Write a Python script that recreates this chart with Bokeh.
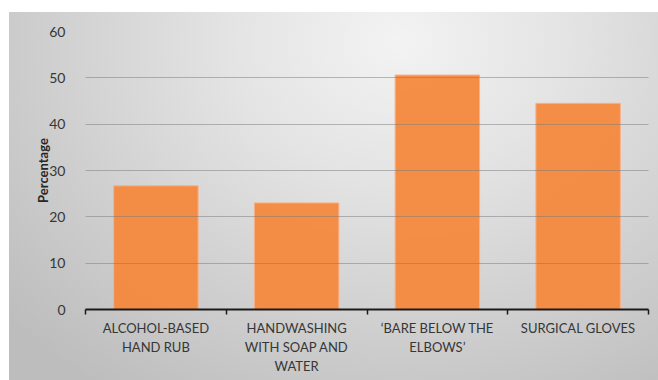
import numpy as np
from bokeh.plotting import figure
from bokeh.models import FixedTicker, Range1d, InlineStyleSheet
from bokeh.embed import file_html
from bokeh.resources import INLINE

categories = ["ALCOHOL-BASED\nHAND RUB", "HANDWASHING\nWITH SOAP AND\nWATER",
              "\u2018BARE BELOW THE\nELBOWS\u2019", "SURGICAL GLOVES"]
values = [26.7, 23.0, 50.6, 44.5]
y_ticks = [0, 10, 20, 30, 40, 50, 60]

n = len(categories)
centers = [i + 0.5 for i in range(n)]
bounds = list(range(n + 1))

css = InlineStyleSheet(css=""":host {
  background:
    radial-gradient(ellipse 80% 115% at 60% 8%, #f3f3f3 0%, #e4e4e4 32%, #cfcfcf 68%, #bdbdbd 100%)
    9px 12px / 649px 368px no-repeat,
    #ffffff;
}""")

p = figure(width=658, height=380, output_backend="svg", toolbar_location=None,
           x_range=Range1d(0, n), y_range=Range1d(0, 60),
           min_border_left=85, min_border_right=10, min_border_top=31, min_border_bottom=71,
           border_fill_color=None, background_fill_color=None, outline_line_color=None,
           stylesheets=[css])

p.vbar(x=centers, top=values, width=0.6, bottom=0,
       fill_color="#F4893D", fill_alpha=0.95, line_color="#F9B088", line_width=1)

# grid above bars
p.xgrid.visible = False
p.ygrid.ticker = FixedTicker(ticks=y_ticks)
p.ygrid.grid_line_color = "#7a7a7a"
p.ygrid.grid_line_alpha = 0.5
p.ygrid.grid_line_width = 1
p.ygrid.level = "annotation"

# x axis
xa = p.xaxis[0]
xa.ticker = FixedTicker(ticks=centers, minor_ticks=bounds)
xa.major_label_overrides = {c: lab for c, lab in zip(centers, categories)}
xa.major_tick_out = 0
xa.major_tick_in = 0
xa.minor_tick_out = 5
xa.minor_tick_in = 0
xa.minor_tick_line_color = "#1a1a1a"
xa.minor_tick_line_width = 1.5
xa.axis_line_color = "#1a1a1a"
xa.axis_line_width = 1.8
xa.major_label_text_font = "Lato"
xa.major_label_text_font_size = "13px"
xa.major_label_text_color = "#363636"
xa.major_label_text_line_height = 1.2
xa.major_label_standoff = 5

# y axis
ya = p.yaxis[0]
ya.ticker = FixedTicker(ticks=y_ticks)
ya.axis_line_color = None
ya.major_tick_line_color = None
ya.minor_tick_line_color = None
ya.major_label_text_font = "Lato"
ya.major_label_text_font_size = "14px"
ya.major_label_text_color = "#363636"
ya.major_label_standoff = 14
ya.axis_label = "Percentage"
ya.axis_label_text_font = "Lato"
ya.axis_label_text_font_style = "bold"
ya.axis_label_text_font_size = "13px"
ya.axis_label_text_color = "#262626"
ya.axis_label_standoff = -5

open("out.html", "w").write(file_html(p, INLINE))
